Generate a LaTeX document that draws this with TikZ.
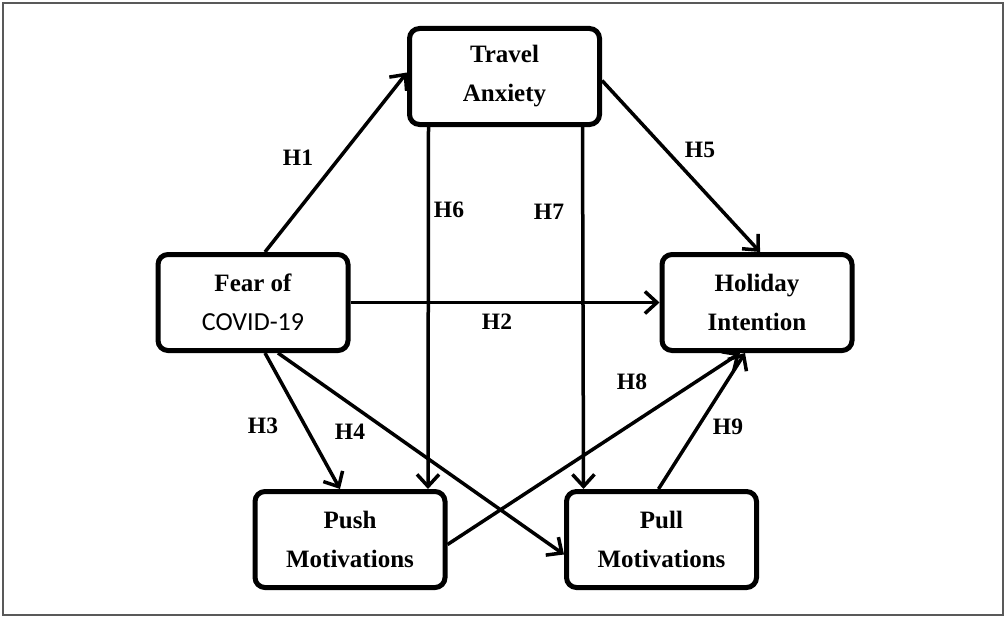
\documentclass[tikz,border=0pt]{standalone}
\usepackage{fontspec}
\setmainfont{Liberation Serif}
\newfontfamily\covidfont{Carlito}
\usetikzlibrary{arrows.meta}
\tikzstyle{hypBox} = [rectangle, rounded corners=10pt, draw, line width=5pt, minimum width=190pt, minimum height=96pt, align=center, font=\fontsize{25}{39}\selectfont\bfseries]
\tikzstyle{hypArrow} = [line width=3.5pt, -{Straight Barb[length=12pt,width=22pt,line width=3.5pt]}]
\tikzstyle{hypLabel} = [font=\fontsize{23.5}{26}\selectfont\bfseries]

\begin{document}
\begin{tikzpicture}[x=1pt, y=-1pt]
    \useasboundingbox (0,0) rectangle (1006,618);
    \draw[line width=2pt, gray!70!black] (3,3) rectangle (1003,615);

    \node[hypBox] (anxiety) at (504.5,76.5) {Travel\\Anxiety};
    \node[hypBox] (fear) at (253,302.5) {Fear of\\{\covidfont\mdseries\fontsize{26}{39}\selectfont COVID-19}};
    \node[hypBox] (intention) at (757,302.5) {Holiday\\Intention};
    \node[hypBox] (push) at (350,539.5) {Push\\Motivations};
    \node[hypBox] (pull) at (661.5,539.5) {Pull\\Motivations};

    \draw[hypArrow] ([xshift=12pt]fear.north) -- ([yshift=4pt]anxiety.west);
    \draw[hypArrow] (fear.east) -- (intention.west);
    \draw[hypArrow] ([xshift=12pt]fear.south) -- ([xshift=-10pt]push.north);
    \draw[hypArrow] ([xshift=25pt]fear.south) -- ([yshift=-15pt]pull.west);
    \draw[hypArrow] ([yshift=-4pt]anxiety.east) -- ([xshift=3pt]intention.north);
    \draw[hypArrow] ([xshift=-76pt]anxiety.south) -- ([xshift=78pt]push.north);
    \draw[hypArrow] ([xshift=78pt]anxiety.south) -- ([xshift=-78pt]pull.north);
    \draw[hypArrow] ([yshift=-5pt]push.east) -- ([xshift=-17pt]intention.south);
    \draw[hypArrow] ([xshift=-3pt]pull.north) -- ([xshift=-12pt]intention.south);

    \node[hypLabel] (h1) at (298,158) {H1};
    \node[hypLabel] (h2) at (497,322) {H2};
    \node[hypLabel] (h3) at (263,426) {H3};
    \node[hypLabel] (h4) at (350,432) {H4};
    \node[hypLabel] (h5) at (700,150) {H5};
    \node[hypLabel] (h6) at (449,210) {H6};
    \node[hypLabel] (h7) at (549,212) {H7};
    \node[hypLabel] (h8) at (632,382) {H8};
    \node[hypLabel] (h9) at (728,427) {H9};
\end{tikzpicture}
\end{document}
